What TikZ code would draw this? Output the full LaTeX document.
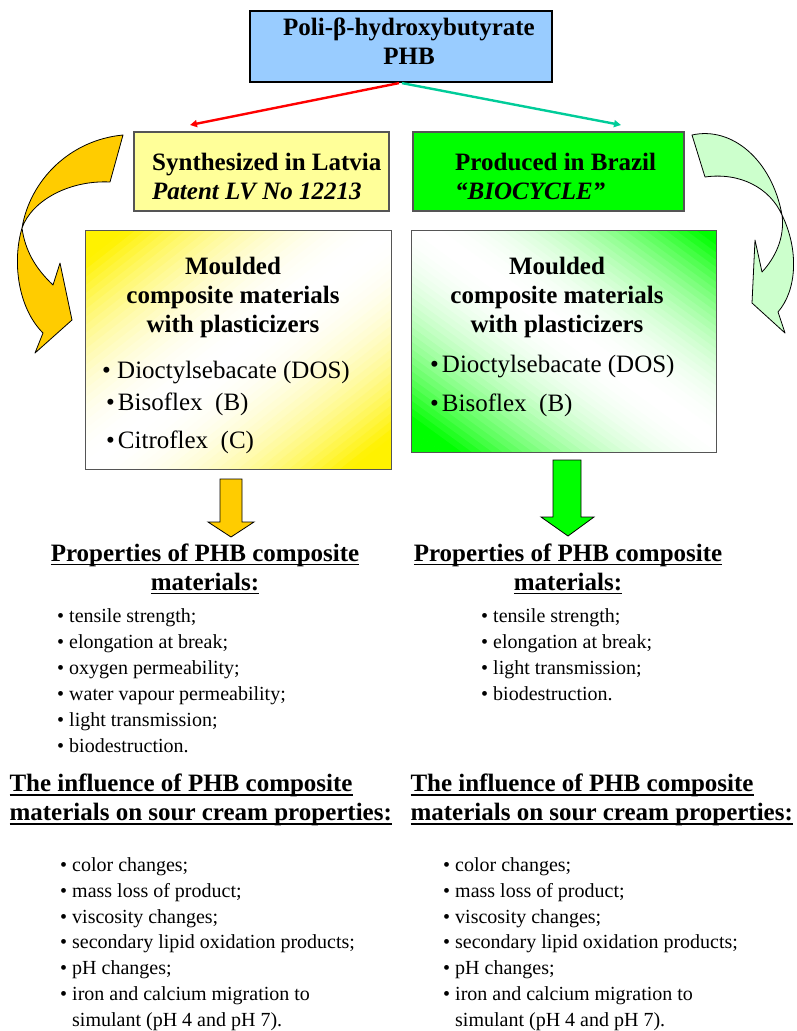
\documentclass[tikz,border=0pt]{standalone}
\usepackage{fontspec}
\setmainfont{Liberation Serif}
\usetikzlibrary{arrows.meta}
\definecolor{phb-blue}{HTML}{99CCFF}
\definecolor{latvia-yellow}{HTML}{FFFF99}
\definecolor{brazil-green}{HTML}{00FF00}
\definecolor{arrow-gold}{HTML}{FFCC00}
\definecolor{arrow-mint}{HTML}{CCFFCC}
\definecolor{line-red}{HTML}{FF0000}
\definecolor{line-teal}{HTML}{00CC99}
\definecolor{edge-grey}{HTML}{555555}
\newcommand{\itm}{\textbullet\ }
\newcommand{\boxbul}{\textbullet\hspace{3pt}}
\newcommand{\uln}[1]{\setbox0\hbox{#1}\rlap{\rule[-4pt]{\wd0}{1.8pt}}\box0}

\begin{document}
\begin{tikzpicture}[x=1pt, y=-1pt,
    headtext/.style={font=\fontsize{25}{29}\selectfont\bfseries, align=center},
    boxlist/.style={font=\fontsize{25}{32}\selectfont, align=left, anchor=north west, inner sep=0pt},
    proplist/.style={font=\fontsize{20}{26}\selectfont, align=left, anchor=north west, inner sep=0pt}]
    % Diagram: PHB origin, two composite branches, their measured properties.
    % Coordinates: (x, y) in pt, y pointing down, page 797 x 1031
    %   PHB box x 250..552, y 11..82
    %   Latvia box x 134..389, Brazil box x 413..684, y 132..211
    %   shaded boxes y 230..469 (left, 306 wide) and 230..452 (right, 305 wide)
    %   block arrows below them, then headings at y 567 and y 798
    \useasboundingbox (0,0) rectangle (797,1031);

    \node[draw, line width=2.2pt, fill=phb-blue, minimum width=302pt, minimum height=71pt]
          (phb) at (401,46.5) {};
    \node[headtext] (phbtext) at (409,41) {Poli-β-hydroxybutyrate\\PHB};
    \node[draw=edge-grey, line width=1.2pt, fill=latvia-yellow, minimum width=255pt,
          minimum height=79pt] (latvia) at (261.5,171.5) {};
    \node[headtext, align=left, anchor=west, inner sep=0pt] (latviatext) at (152,176.5)
          {Synthesized in Latvia\\\textit{Patent LV No 12213}};
    \node[draw=edge-grey, line width=1.2pt, fill=brazil-green, minimum width=271pt,
          minimum height=79pt] (brazil) at (548.5,171.5) {};
    \node[headtext, align=left, anchor=west, inner sep=0pt] (braziltext) at (455,176.5)
          {Produced in Brazil\\\textit{“BIOCYCLE”}};

    \coordinate (redtip) at (190,125);
    \coordinate (tealtip) at (621,125);
    \draw[-{Triangle[length=7pt,width=7pt]}, line width=2.4pt, line-red]
      ([xshift=-2pt]phb.south) -- (redtip);
    \draw[-{Triangle[length=7pt,width=7pt]}, line width=2.4pt, line-teal]
      ([xshift=1pt]phb.south) -- (tealtip);

    % curved ribbon arrows at the sides
    \draw[fill=arrow-gold, line width=0.8pt, line join=round]
      (123,135) .. controls (70,140) and (30,180) .. (22,228)
      .. controls (12,262) and (18,308) .. (43,333) -- (35,353) -- (72,320) -- (60,263) -- (53,285)
      .. controls (35,268) and (25,250) .. (22,228)
      .. controls (32,200) and (70,180) .. (110,182) -- cycle;
    \draw[fill=arrow-mint, line width=0.8pt, line join=round]
      (692,135) .. controls (732,126) and (772,160) .. (782,215)
      .. controls (799,250) and (797,290) .. (778,312) -- (785,333) -- (752,303) -- (755,240) -- (762,272)
      .. controls (775,258) and (785,238) .. (782,215)
      .. controls (770,188) and (740,172) .. (705,177) -- cycle;

    % diagonal fades, drawn as thin strips
    \begin{scope}
      \clip (85,230) rectangle (391,469);
      \foreach \i in {0,...,59} {
        \pgfmathsetmacro\ta{\i/30}
        \pgfmathsetmacro\tb{(\i+1.1)/30}
        \pgfmathsetmacro\p{min(100,((\i+0.5)/30-1)^2*135)}
        \fill[yellow!\p!white] ({85+306*(\ta+1)},-9) -- ({85+306*(\ta-3)},947)
          -- ({85+306*(\tb-3)},947) -- ({85+306*(\tb+1)},-9) -- cycle;
      }
    \end{scope}
    \begin{scope}
      \clip (411,230) rectangle (716,452);
      \foreach \i in {0,...,59} {
        \pgfmathsetmacro\ta{\i/30-1}
        \pgfmathsetmacro\tb{(\i+1.1)/30-1}
        \pgfmathsetmacro\p{min(100,((\i+0.5)/30-1.05)^2*125)}
        \fill[brazil-green!\p!white] ({411+305*(\ta-1)},8) -- ({411+305*(\ta+2)},674)
          -- ({411+305*(\tb+2)},674) -- ({411+305*(\tb-1)},8) -- cycle;
      }
    \end{scope}
    \node[draw=edge-grey, line width=1pt, minimum width=306pt, minimum height=239pt]
          (latviabox) at (238,349.5) {};
    \node[draw=edge-grey, line width=1pt, minimum width=305pt, minimum height=222pt]
          (brazilbox) at (563.5,341) {};
    \node[headtext] (latviahead) at (233,297) {Moulded\\composite materials\\with plasticizers};
    \node[headtext] (brazilhead) at (557,297) {Moulded\\composite materials\\with plasticizers};
    \node[boxlist] (latvialist) at (102,360.5)
      {\itm Dioctylsebacate (DOS)\\\hspace*{4pt}\boxbul Bisoflex\ \ (B)\\[6pt]\hspace*{4pt}\boxbul Citroflex\ \ (C)};
    \node[boxlist, font=\fontsize{25}{39}\selectfont] (brazillist) at (430,354.5)
      {\boxbul Dioctylsebacate (DOS)\\\boxbul Bisoflex\ \ (B)};

    % block arrows
    \draw[fill=arrow-gold, line width=0.8pt]
      (220,479) -- (242,479) -- (242,522) -- (254,522) -- (231,537) -- (208,522) -- (220,522) -- cycle;
    \draw[fill=brazil-green, line width=0.8pt]
      (553,460) -- (581,460) -- (581,517) -- (594,517) -- (568,536) -- (541,517) -- (553,517) -- cycle;

    \node[headtext] (latviaprops) at (205,569)
      {\uln{Properties of PHB composite}\\\uln{materials:}};
    \node[headtext] (brazilprops) at (568,569)
      {\uln{Properties of PHB composite}\\\uln{materials:}};
    \node[proplist] (latviaproplist) at (57,608)
      {\itm tensile strength;\\\itm elongation at break;\\\itm oxygen permeability;\\
       \itm water vapour permeability;\\\itm light transmission;\\\itm biodestruction.};
    \node[proplist] (brazilproplist) at (481,608)
      {\itm tensile strength;\\\itm elongation at break;\\\itm light transmission;\\\itm biodestruction.};

    \node[headtext, align=left, anchor=west] (latviacream) at (6,800)
      {\uln{The influence of PHB composite}\\\uln{materials on sour cream properties:}};
    \node[headtext, align=left, anchor=west] (braziliancream) at (407,800)
      {\uln{The influence of PHB composite}\\\uln{materials on sour cream properties:}};
    \node[proplist, font=\fontsize{20}{25.8}\selectfont] (latviacreamlist) at (60,857.5)
      {\itm color changes;\\\itm mass loss of product;\\\itm viscosity changes;\\
       \itm secondary lipid oxidation products;\\\itm pH changes;\\
       \itm iron and calcium migration to\\\phantom{\itm}simulant (pH 4 and pH 7).};
    \node[proplist, font=\fontsize{20}{25.8}\selectfont] (braziliancreamlist) at (443,857.5)
      {\itm color changes;\\\itm mass loss of product;\\\itm viscosity changes;\\
       \itm secondary lipid oxidation products;\\\itm pH changes;\\
       \itm iron and calcium migration to\\\phantom{\itm}simulant (pH 4 and pH 7).};
\end{tikzpicture}
\end{document}
